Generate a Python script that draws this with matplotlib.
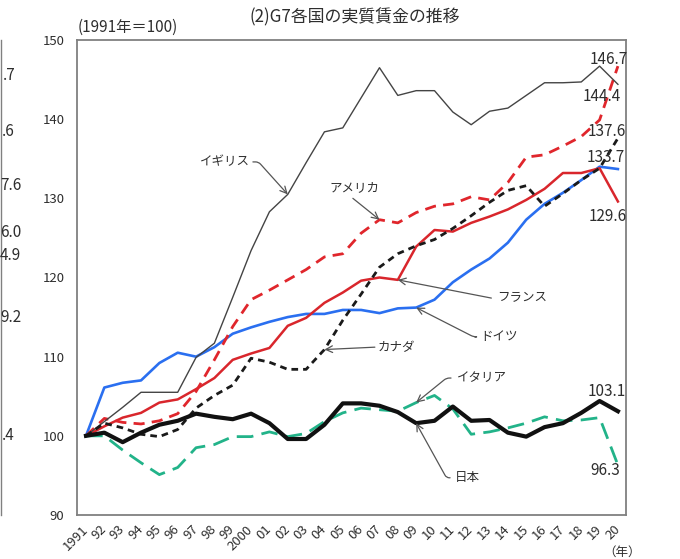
import matplotlib
matplotlib.use("Agg")
import matplotlib.pyplot as plt
from matplotlib.lines import Line2D

plt.rcParams['font.family'] = ['Noto Sans CJK JP', 'DejaVu Sans']

years = list(range(1991, 2021))
xlabels = ['1991', '92', '93', '94', '95', '96', '97', '98', '99', '2000',
           '01', '02', '03', '04', '05', '06', '07', '08', '09', '10',
           '11', '12', '13', '14', '15', '16', '17', '18', '19', '20']

uk = [100, 101.8, 103.6, 105.5, 105.5, 105.5, 109.9, 111.7, 117.5, 123.4,
      128.3, 130.5, 134.5, 138.4, 138.9, 142.7, 146.5, 143.0, 143.6, 143.6,
      140.9, 139.3, 141.0, 141.4, 143.0, 144.6, 144.6, 144.7, 146.7, 144.4]
usa = [100, 102.2, 101.7, 101.5, 101.9, 102.8, 105.6, 109.6, 113.8, 117.2,
       118.4, 119.7, 121.0, 122.6, 123.0, 125.6, 127.3, 126.9, 128.2, 129.0,
       129.3, 130.2, 129.8, 132.0, 135.2, 135.5, 136.6, 137.8, 139.9, 146.7]
france = [100, 101.2, 102.3, 102.9, 104.2, 104.6, 105.9, 107.3, 109.6, 110.4,
          111.1, 113.9, 114.9, 116.8, 118.1, 119.6, 120.0, 119.7, 123.9, 126.0,
          125.8, 126.9, 127.7, 128.6, 129.8, 131.2, 133.2, 133.2, 133.8, 129.6]
germany = [100, 106.1, 106.7, 107.0, 109.2, 110.5, 110.0, 111.2, 112.9, 113.7,
           114.4, 115.0, 115.4, 115.4, 115.9, 115.9, 115.5, 116.1, 116.2, 117.2,
           119.4, 121.0, 122.4, 124.4, 127.3, 129.3, 130.7, 132.3, 134.0, 133.7]
canada = [100, 101.6, 101.0, 100.2, 99.9, 100.8, 103.5, 105.1, 106.4, 109.8,
          109.3, 108.4, 108.4, 110.9, 114.6, 117.9, 121.3, 123.0, 124.0, 124.8,
          126.2, 127.8, 129.5, 131.0, 131.6, 129.0, 130.6, 132.3, 133.8, 137.6]
italy = [100, 100.0, 98.2, 96.6, 95.1, 96.0, 98.5, 98.9, 99.9, 99.9,
         100.5, 99.9, 100.3, 101.8, 102.9, 103.5, 103.3, 103.1, 104.2, 105.1,
         103.4, 100.2, 100.5, 101.0, 101.6, 102.4, 101.9, 102.0, 102.3, 96.3]
japan = [100, 100.4, 99.2, 100.4, 101.4, 101.9, 102.8, 102.4, 102.1, 102.8,
         101.6, 99.6, 99.6, 101.4, 104.1, 104.1, 103.8, 103.0, 101.6, 101.9,
         103.7, 101.9, 102.0, 100.4, 99.9, 101.1, 101.6, 102.9, 104.4, 103.1]

W, H = 680, 559
TXT = '#2e2e2e'
fig = plt.figure(figsize=(W / 100, H / 100), dpi=100)
ax = fig.add_axes([77 / W, 1 - 515 / H, (626 - 77) / W, (515 - 40) / H])

ax.plot(years, germany, color='#2a6ff0', lw=1.9, zorder=3)
ax.plot(years, france, color='#d9262c', lw=1.8, zorder=3)
ax.plot(years, usa, color='#e0262c', lw=2.0, dashes=(4, 2.6), zorder=4)
ax.plot(years, uk, color='#444444', lw=1.0, zorder=5)
ax.plot(years, canada, color='#1a1a1a', lw=2.0, dashes=(2.4, 1.8), zorder=5)
ax.plot(years, italy, color='#22b389', lw=2.0, dashes=(6, 3), zorder=5)
ax.plot(years, japan, color='#111111', lw=3.0, zorder=6)

ax.set_xlim(1990.51, 2020.44)
ax.set_ylim(90, 150)
ax.set_yticks([90, 100, 110, 120, 130, 140, 150])
ax.set_xticks(years)
ax.set_xticklabels(xlabels, rotation=45, ha='right', va='center',
                   rotation_mode='anchor')
ax.tick_params(axis='both', length=0, labelsize=9.5, colors=TXT)
ax.tick_params(axis='y', pad=9)
ax.tick_params(axis='x', pad=9)
for s in ax.spines.values():
    s.set_color('#808080')
    s.set_linewidth(1.3)

arrow_kw = dict(arrowstyle='->', color='#555555', lw=0.9, shrinkA=0, shrinkB=0,
                mutation_scale=12)
lab_kw = dict(fontsize=9, color=TXT, va='center', ha='left')

def arrow(xy, start, cs='arc3,rad=0'):
    kw = dict(arrow_kw)
    kw['connectionstyle'] = cs
    ax.annotate('', xy=xy, xytext=start, arrowprops=kw, zorder=7)

# series name labels
ax.text(1997.2, 134.6, 'イギリス', **lab_kw)
arrow((2002, uk[11]), (2000.1, 134.6), 'angle,angleA=0,angleB=132,rad=3')
ax.text(2004.3, 131.3, 'アメリカ', **lab_kw)
arrow((2007, usa[16]), (2005.55, 130.0))
ax.text(2013.4, 117.4, 'フランス', **lab_kw)
arrow((2008, france[17]), (2013.1, 117.4))
ax.text(2012.5, 112.5, 'ドイツ', **lab_kw)
arrow((2009, germany[18]), (2012.2, 112.5), 'angle,angleA=0,angleB=-27,rad=3')
ax.text(2006.9, 111.2, 'カナダ', **lab_kw)
arrow((2004, canada[13]), (2006.75, 111.2))
ax.text(2011.2, 107.3, 'イタリア', **lab_kw)
arrow((2009, italy[18]), (2010.9, 107.3), 'angle,angleA=0,angleB=39,rad=3')
ax.text(2011.1, 94.7, '日本', **lab_kw)
arrow((2009, japan[18]), (2010.85, 94.7), 'angle,angleA=0,angleB=-61,rad=3')

# end value labels
val_kw = dict(fontsize=11, color=TXT, ha='center', va='center', clip_on=False, zorder=8)
ax.text(2019.5, 147.6, f'{usa[-1]:.1f}', **val_kw)
ax.text(2019.1, 142.9, f'{uk[-1]:.1f}', **val_kw)
ax.text(2019.4, 138.4, f'{canada[-1]:.1f}', **val_kw)
ax.text(2019.35, 135.1, f'{germany[-1]:.1f}', **val_kw)
ax.text(2019.45, 127.7, f'{france[-1]:.1f}', **val_kw)
ax.text(2019.4, 105.6, f'{japan[-1]:.1f}', **val_kw)
ax.text(2019.3, 95.6, f'{italy[-1]:.1f}', **val_kw)

# titles and units
fig.text(355 / W, 1 - 17 / H, '(2)G7各国の実質賃金の推移', fontsize=12.2,
         ha='center', va='center', color=TXT)
fig.text(78 / W, 1 - 27 / H, '(1991年＝100)', fontsize=11,
         ha='left', va='center', color=TXT)
fig.text(622 / W, 1 - 552 / H, '（年）', fontsize=9,
         ha='center', va='center', color=TXT)

# fragment of neighbouring chart at left edge
frag_kw = dict(fontsize=11, color=TXT, ha='left', va='center')
for txt, px, py in [('.7', 3, 75), ('.6', 2, 131), ('7.6', 0, 185), ('6.0', 0, 232),
                    ('4.9', 0, 255), ('9.2', 0, 317), ('.4', 2, 435)]:
    fig.text(px / W, 1 - py / H, txt, **frag_kw)
fig.add_artist(Line2D([1 / W, 1 / W], [1 - 40 / H, 1 - 515 / H],
                      color='#808080', lw=1.0))

fig.savefig('out.png', dpi=100)
